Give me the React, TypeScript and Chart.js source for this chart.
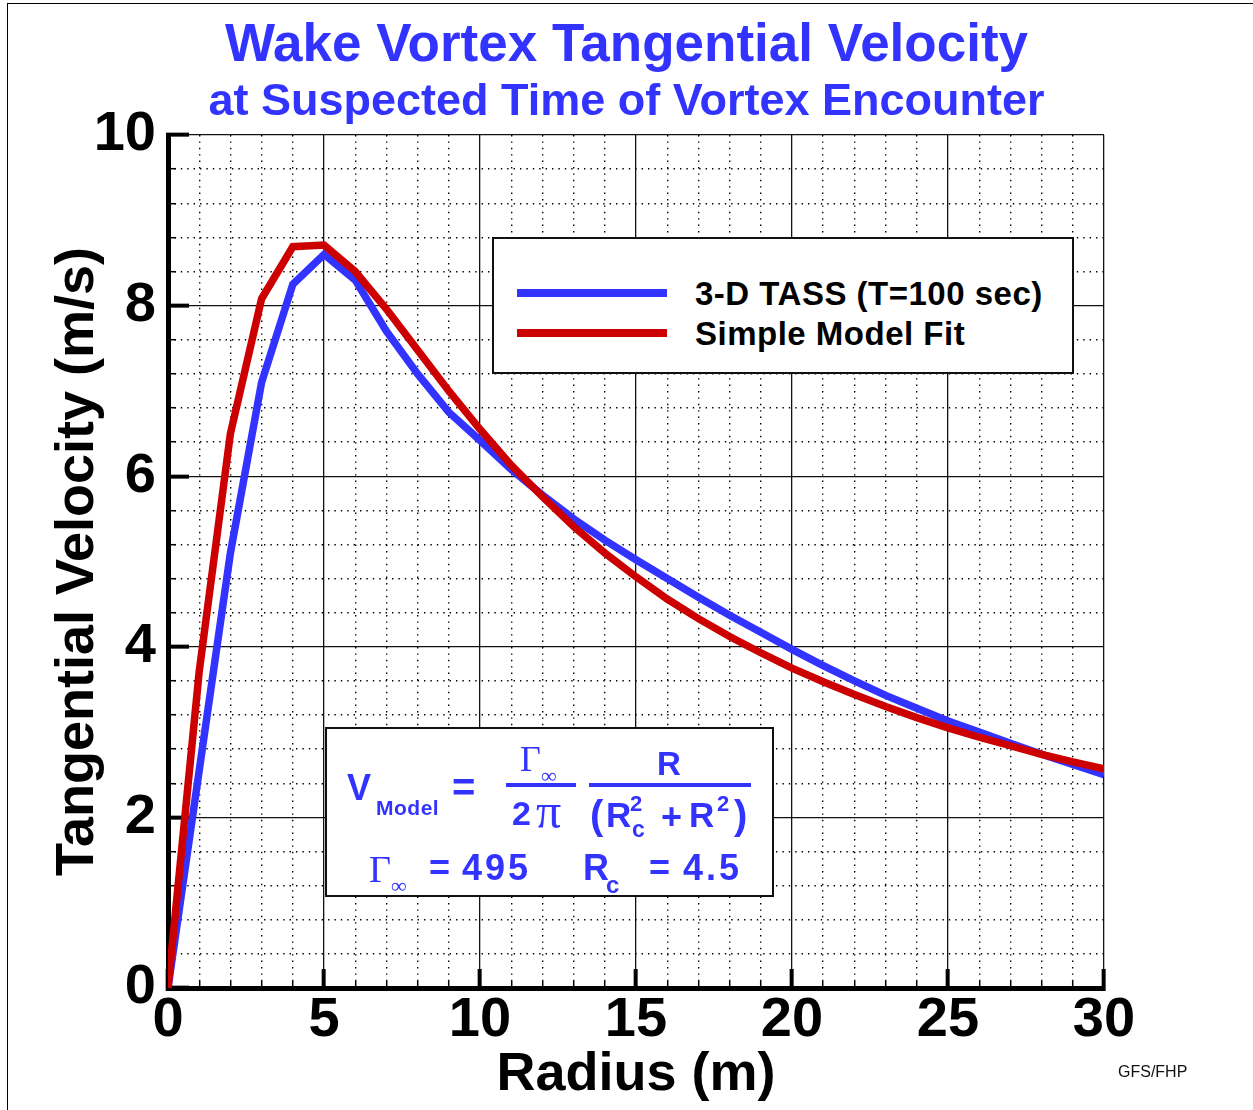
import React, { useEffect, useRef } from 'react';
import { Chart, registerables } from 'chart.js';

Chart.register(...registerables);

// ---- data ----
const radius = [0, 1, 2, 3, 4, 5, 6, 7, 8, 9, 10, 11, 12, 13, 14, 15, 16, 17, 18, 19, 20, 21, 22, 23, 24, 25, 26, 27, 28, 29, 30];
const tassVelocity = [0, 2.55, 5.1, 7.1, 8.25, 8.6, 8.3, 7.7, 7.2, 6.75, 6.42, 6.08, 5.78, 5.5, 5.25, 5.02, 4.8, 4.58, 4.37, 4.17, 3.97, 3.78, 3.6, 3.43, 3.28, 3.13, 3.0, 2.87, 2.74, 2.62, 2.5];
const modelVelocity = [0, 3.71, 6.5, 8.08, 8.69, 8.71, 8.4, 7.96, 7.48, 7.0, 6.55, 6.13, 5.76, 5.41, 5.1, 4.82, 4.56, 4.33, 4.12, 3.93, 3.75, 3.59, 3.44, 3.3, 3.17, 3.05, 2.94, 2.84, 2.74, 2.65, 2.57];

const seriesLabels = ['3-D TASS (T=100 sec)', 'Simple Model Fit'];
const seriesColors = ['#3333ff', '#cc0000'];

const xRange = [0, 30];
const yRange = [0, 10];
const xMajorStep = 5;
const xMinorStep = 1;
const yMajorStep = 2;
const yMinorStep = 0.4;

const titleText = 'Wake Vortex Tangential Velocity';
const subtitleText = 'at Suspected Time of Vortex Encounter';
const xTitle = 'Radius (m)';
const yTitle = 'Tangential Velocity (m/s)';
const creditText = 'GFS/FHP';

const BLUE = '#3333ff';
const SANS = '"Liberation Sans", Arial, Helvetica, sans-serif';
const SERIF = '"Liberation Serif", "Times New Roman", serif';

const isMultiple = (v: number, step: number) => Math.abs(v / step - Math.round(v / step)) < 1e-6;

type TxtProps = { x: number; base: number; size: number; text: string; bold?: boolean; serif?: boolean; color?: string; ls?: number };
function Txt({ x, base, size, text, bold = true, serif = false, color = BLUE, ls = 0 }: TxtProps) {
  const asc = serif ? 0.8375 : 0.8465;
  return (
    <span
      style={{
        position: 'absolute',
        left: x,
        top: base - asc * size,
        fontFamily: serif ? SERIF : SANS,
        fontSize: size,
        fontWeight: bold ? 'bold' : 'normal',
        lineHeight: `${size}px`,
        color,
        whiteSpace: 'pre',
        letterSpacing: ls,
      }}
    >
      {text}
    </span>
  );
}

export default function App() {
  const canvasRef = useRef<HTMLCanvasElement | null>(null);

  useEffect(() => {
    const canvas = canvasRef.current;
    if (!canvas) return;
    const tickFont = { family: SANS, size: 56, weight: 'bold' as const, lineHeight: 1 };
    const titleFont = { family: SANS, size: 54, weight: 'bold' as const, lineHeight: 1 };
    const chart = new Chart(canvas, {
      type: 'line',
      data: {
        datasets: [
          {
            label: seriesLabels[0],
            data: radius.map((r, i) => ({ x: r, y: tassVelocity[i] })),
            borderColor: seriesColors[0],
            backgroundColor: seriesColors[0],
            borderWidth: 7.5,
            pointRadius: 0,
            tension: 0,
            order: 1,
            xAxisID: 'x',
            yAxisID: 'y',
          },
          {
            label: seriesLabels[1],
            data: radius.map((r, i) => ({ x: r, y: modelVelocity[i] })),
            borderColor: seriesColors[1],
            backgroundColor: seriesColors[1],
            borderWidth: 7.5,
            pointRadius: 0,
            tension: 0,
            order: 0,
            xAxisID: 'x',
            yAxisID: 'y',
          },
        ],
      },
      options: {
        responsive: false,
        animation: false,
        devicePixelRatio: 1,
        layout: { padding: { left: 0, top: 0, right: 0, bottom: 0 } },
        plugins: {
          legend: { display: false },
          tooltip: { enabled: false },
          title: {
            display: true,
            text: titleText,
            color: BLUE,
            font: { family: SANS, size: 53, weight: 'bold', lineHeight: 1 },
            padding: { top: 20, bottom: 0 },
          },
          subtitle: {
            display: true,
            text: subtitleText,
            color: BLUE,
            font: { family: SANS, size: 45, weight: 'bold', lineHeight: 1 },
            padding: { top: 7.5, bottom: 9.5 },
          },
        },
        scales: {
          x: {
            type: 'linear',
            position: 'bottom',
            weight: 1,
            min: xRange[0],
            max: xRange[1],
            ticks: { stepSize: xMajorStep, autoSkip: false, maxRotation: 0, padding: 24, color: '#000', font: tickFont },
            grid: { color: '#111', lineWidth: 1.3, tickLength: -19, tickWidth: 4, tickColor: '#000' },
            border: { display: true, color: '#000', width: 5 },
            title: { display: true, text: xTitle, color: '#000', font: titleFont, padding: { top: 0, bottom: 8 } },
            afterFit: (s: any) => { s.height = 122; },
          },
          x2: {
            type: 'linear',
            position: 'bottom',
            weight: 0,
            min: xRange[0],
            max: xRange[1],
            ticks: { stepSize: xMinorStep, display: false },
            grid: {
              color: (c: any) => (isMultiple(c.tick.value, xMajorStep) ? 'rgba(0,0,0,0)' : '#000'),
              lineWidth: 1.4,
              tickLength: -7,
              tickWidth: 1.5,
              tickColor: '#000',
            },
            border: { display: false, dash: [1.4, 5] },
            afterFit: (s: any) => { s.height = 0; },
          },
          y: {
            type: 'linear',
            position: 'left',
            weight: 1,
            min: yRange[0],
            max: yRange[1],
            ticks: { stepSize: yMajorStep, autoSkip: false, padding: 33, color: '#000', font: tickFont },
            grid: { color: '#111', lineWidth: 1.3, tickLength: -21, tickWidth: 4, tickColor: '#000' },
            border: { display: true, color: '#000', width: 5 },
            title: { display: true, text: yTitle, color: '#000', font: titleFont, padding: { top: 51, bottom: 0 } },
            afterFit: (s: any) => { s.width = 168; },
          },
          y2: {
            type: 'linear',
            position: 'left',
            weight: 0,
            min: yRange[0],
            max: yRange[1],
            ticks: { stepSize: yMinorStep, display: false },
            grid: {
              color: (c: any) => (isMultiple(c.tick.value, yMajorStep) ? 'rgba(0,0,0,0)' : '#000'),
              lineWidth: 1.4,
              tickLength: -8,
              tickWidth: 1.5,
              tickColor: '#000',
            },
            border: { display: false, dash: [1.4, 5] },
            afterFit: (s: any) => { s.width = 0; },
          },
          yRight: {
            type: 'linear',
            position: 'right',
            min: yRange[0],
            max: yRange[1],
            ticks: { display: false },
            grid: { display: false },
            border: { display: false },
            afterFit: (s: any) => { s.width = 149; },
          },
        },
      } as any,
    });
    return () => chart.destroy();
  }, []);

  return (
    <div style={{ position: 'absolute', left: 0, top: 0, width: 1253, height: 1110, background: '#fff', overflow: 'hidden' }}>
      <canvas ref={canvasRef} width={1253} height={1110} style={{ position: 'absolute', left: 0, top: 0, width: 1253, height: 1110 }} />
      {/* page frame */}
      <div style={{ position: 'absolute', left: 7, top: 3, right: -10, bottom: -10, borderTop: '1.5px solid #000', borderLeft: '1.5px solid #000' }} />

      {/* legend */}
      <div style={{ position: 'absolute', left: 492, top: 237, width: 582, height: 137, border: '2px solid #111', background: '#fff', boxSizing: 'border-box' }} />
      {seriesLabels.map((lab, i) => (
        <React.Fragment key={lab}>
          <div style={{ position: 'absolute', left: 517, top: 289 + i * 40, width: 150, height: 8, background: seriesColors[i] }} />
          <Txt x={695} base={305 + i * 40} size={33} text={lab} color="#000" ls={0.5} />
        </React.Fragment>
      ))}

      {/* model equation box */}
      <div style={{ position: 'absolute', left: 325, top: 727, width: 449, height: 170, border: '2px solid #111', background: '#fff', boxSizing: 'border-box' }} />
      <Txt x={347} base={800} size={36} text="V" />
      <Txt x={376} base={815} size={21} text="Model" ls={0.5} />
      <Txt x={452} base={801} size={40} text="=" />
      <Txt x={520} base={771} size={36} text="Γ" bold={false} serif />
      <Txt x={541} base={783} size={22} text="∞" bold={false} serif />
      <div style={{ position: 'absolute', left: 506, top: 783, width: 70, height: 4, background: BLUE }} />
      <Txt x={512} base={825} size={34} text="2" />
      <Txt x={536} base={828} size={50} text="π" bold={false} serif />
      <Txt x={657} base={775} size={33} text="R" />
      <div style={{ position: 'absolute', left: 589, top: 783, width: 162, height: 4, background: BLUE }} />
      <Txt x={590} base={829} size={40} text="(" />
      <Txt x={606} base={827} size={35} text="R" />
      <Txt x={630} base={812} size={22} text="2" />
      <Txt x={632} base={837} size={23} text="c" />
      <Txt x={661} base={829} size={36} text="+" />
      <Txt x={689} base={827} size={35} text="R" />
      <Txt x={717} base={812} size={22} text="2" />
      <Txt x={734} base={829} size={40} text=")" />

      <Txt x={369} base={882} size={38} text="Γ" bold={false} serif />
      <Txt x={391} base={893} size={22} text="∞" bold={false} serif />
      <Txt x={429} base={880} size={36} text="=" />
      <Txt x={462} base={880} size={36} text="495" ls={3} />
      <Txt x={583} base={880} size={36} text="R" />
      <Txt x={606} base={893} size={24} text="c" />
      <Txt x={649} base={880} size={36} text="=" />
      <Txt x={683} base={880} size={36} text="4.5" ls={3} />

      {/* credit */}
      <Txt x={1118} base={1078} size={16} text={creditText} bold={false} color="#111" />
    </div>
  );
}
